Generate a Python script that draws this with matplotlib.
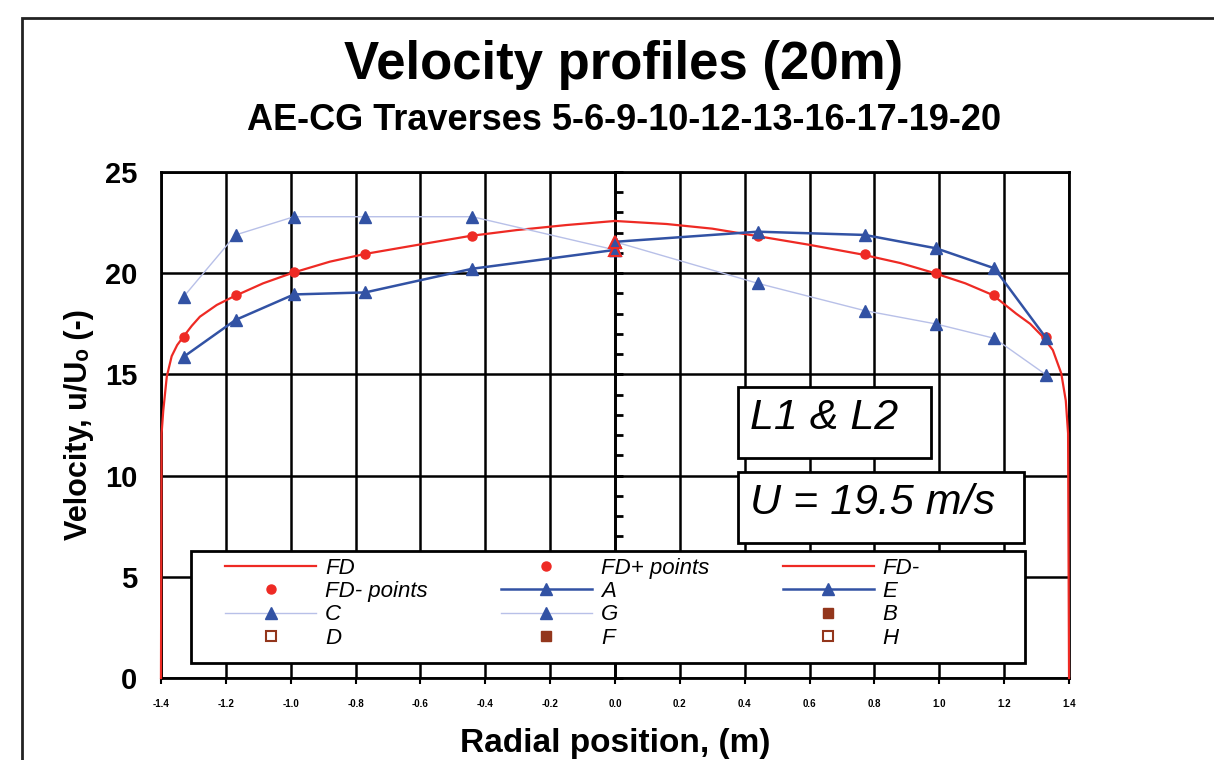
import matplotlib
matplotlib.use('Agg')
import matplotlib.pyplot as plt
from matplotlib.patches import Rectangle
from matplotlib.ticker import MultipleLocator, NullFormatter

plt.rcParams['font.family'] = ['Liberation Sans', 'DejaVu Sans']

# FD curve, split at the centre line
fd_neg_x = [-1.4, -1.398, -1.393, -1.382, -1.367, -1.35, -1.331, -1.305, -1.28, -1.228,
            -1.177, -1.085, -0.992, -0.879, -0.771, -0.612, -0.447, -0.303, -0.149, 0.0]
fd_neg_y = [0.0, 12.1, 13.2, 14.9, 15.9, 16.45, 16.86, 17.4, 17.85, 18.43,
            18.84, 19.5, 20.03, 20.57, 20.95, 21.39, 21.84, 22.13, 22.38, 22.58]
fd_pos_x = [0.0, 0.159, 0.3, 0.436, 0.6, 0.76, 0.88, 0.98, 1.08, 1.165,
            1.237, 1.28, 1.319, 1.35, 1.376, 1.39, 1.397, 1.4]
fd_pos_y = [22.58, 22.43, 22.2, 21.84, 21.4, 20.93, 20.5, 20.03, 19.5, 18.92,
            18.0, 17.5, 16.86, 16.2, 15.05, 13.7, 12.09, 0.0]

# measured points
pts_pos_x = [0.44, 0.77, 0.99, 1.17, 1.33]
pts_pos_y = [21.85, 20.95, 20.03, 18.9, 16.85]
pts_neg_x = [-1.33, -1.17, -0.99, -0.77, -0.44]
pts_neg_y = [16.85, 18.9, 20.05, 20.95, 21.85]

left_x = [-1.33, -1.17, -0.99, -0.77, -0.44, 0.0]
right_x = [0.0, 0.44, 0.77, 0.99, 1.17, 1.33]
a_y = [15.87, 17.69, 18.95, 19.05, 20.22, 21.15]
e_y = [21.55, 22.05, 21.89, 21.23, 20.24, 16.78]
c_y = [18.84, 21.89, 22.79, 22.79, 22.79, 21.15]
g_y = [21.55, 19.5, 18.15, 17.49, 16.78, 14.97]

x_ticks = [-1.4, -1.2, -1.0, -0.8, -0.6, -0.4, -0.2, 0.0, 0.2, 0.4, 0.6, 0.8, 1.0, 1.2, 1.4]
y_ticks = [0, 5, 10, 15, 20, 25]

red = '#ee2a24'
dblue = '#3252a4'
lblue = '#b8c0e8'
brown = '#93361c'

fig = plt.figure(figsize=(12.14, 7.6), dpi=100)
ax = fig.add_axes([0.1326, 0.1079, 0.748, 0.6658])

# outer frame of the figure
fig.patches.append(Rectangle((22 / 1214, -0.2), 1.2, 1.2 - 18 / 760,
                             transform=fig.transFigure, fill=False,
                             edgecolor='#222222', linewidth=2))

ax.plot(fd_pos_x, fd_pos_y, color=red, lw=1.6, label='FD', zorder=3, clip_on=False)
ax.plot(fd_neg_x, fd_neg_y, color=red, lw=1.6, label='FD-', zorder=3, clip_on=False)
ax.plot(pts_pos_x, pts_pos_y, 'o', color=red, ms=6.5, label='FD+ points', zorder=3)
ax.plot(pts_neg_x, pts_neg_y, 'o', color=red, ms=6.5, label='FD- points', zorder=3)

ax.plot(left_x, c_y, '-^', color=lblue, lw=1.0, mfc=dblue, mec=dblue, ms=8, label='C', zorder=3)
ax.plot(right_x, g_y, '-^', color=lblue, lw=1.0, mfc=dblue, mec=dblue, ms=8, label='G', zorder=3)
ax.plot(left_x, a_y, '-^', color=dblue, lw=1.8, ms=8, label='A', zorder=3)
ax.plot(right_x, e_y, '-^', color=dblue, lw=1.8, ms=8, label='E', zorder=3)
# centre points show with a red edge
ax.plot([left_x[-1], right_x[0]], [a_y[-1], e_y[0]], '^', color=dblue,
        mec=red, mew=1.5, ms=8, zorder=3)

ax.plot([], [], 's', color=brown, ms=7, label='B')
ax.plot([], [], 's', mfc='white', mec=brown, mew=1.5, ms=7, label='D')
ax.plot([], [], 's', color=brown, ms=7, label='F')
ax.plot([], [], 's', mfc='white', mec=brown, mew=1.5, ms=7, label='H')

ax.set_xlim(-1.4, 1.4)
ax.set_ylim(0, 25)
ax.set_xticks(x_ticks)
ax.set_xticklabels(['%.1f' % v for v in x_ticks], fontsize=7, fontweight='bold')
ax.set_yticks(y_ticks)
ax.set_yticklabels([str(v) for v in y_ticks], fontsize=21, fontweight='bold')
ax.tick_params(axis='y', length=0, pad=17)
ax.tick_params(axis='x', length=4, width=1.5, pad=11)
ax.grid(True, color='black', lw=1.8)
ax.set_axisbelow(True)
for s in ax.spines.values():
    s.set_linewidth(2)

# centre axis with unit ticks
sec = ax.secondary_yaxis(0.5)
sec.yaxis.set_major_locator(MultipleLocator(1))
sec.yaxis.set_major_formatter(NullFormatter())
sec.tick_params(length=6, width=2)
for s in sec.spines.values():
    s.set_linewidth(2)

ax.set_xlabel('Radial position, (m)', fontsize=24, fontweight='bold', labelpad=14)
ax.set_ylabel('Velocity, u/Uₒ (-)', fontsize=22, fontweight='bold', labelpad=8)

fig.text(0.514, 0.915, 'Velocity profiles (20m)', ha='center', va='center',
         fontsize=38, fontweight='bold')
fig.text(0.514, 0.842, 'AE-CG Traverses 5-6-9-10-12-13-16-17-19-20', ha='center',
         va='center', fontsize=26, fontweight='bold')

# label boxes
def px_box(x0, y0, x1, y1):
    return ((x0 - 161) / 908, (678 - y1) / 506, (x1 - x0) / 908, (y1 - y0) / 506)

for (x0, y0, x1, y1), txt in [((738, 387, 931, 458), 'L1 & L2'),
                              ((738, 472, 1024, 543), 'U = 19.5 m/s')]:
    bx, by, bw, bh = px_box(x0, y0, x1, y1)
    ax.add_patch(Rectangle((bx, by), bw, bh, transform=ax.transAxes,
                           facecolor='white', edgecolor='black', lw=2, zorder=4))
    ax.text(bx + 12 / 908, by + bh * 0.56, txt, transform=ax.transAxes,
            fontsize=31, fontstyle='italic', va='center', ha='left', zorder=5)

# legend box
bx, by, bw, bh = px_box(191, 551, 1025, 663)
ax.add_patch(Rectangle((bx, by), bw, bh, transform=ax.transAxes,
                       facecolor='white', edgecolor='black', lw=2, zorder=4))

handles, labels = ax.get_legend_handles_labels()
hmap = dict(zip(labels, handles))
order = ['FD', 'FD- points', 'C', 'D',
         'FD+ points', 'A', 'G', 'F',
         'FD-', 'E', 'B', 'H']
leg = ax.legend([hmap[k] for k in order], order, ncol=3, frameon=False,
                loc='upper left', bbox_to_anchor=((225 - 161) / 908, (678 - 558) / 506),
                borderpad=0, borderaxespad=0, handlelength=4.1, handletextpad=0.4,
                columnspacing=3.3, labelspacing=0.1,
                prop={'size': 16, 'style': 'italic'})
leg.set_zorder(6)

fig.savefig('out.png', dpi=100)
